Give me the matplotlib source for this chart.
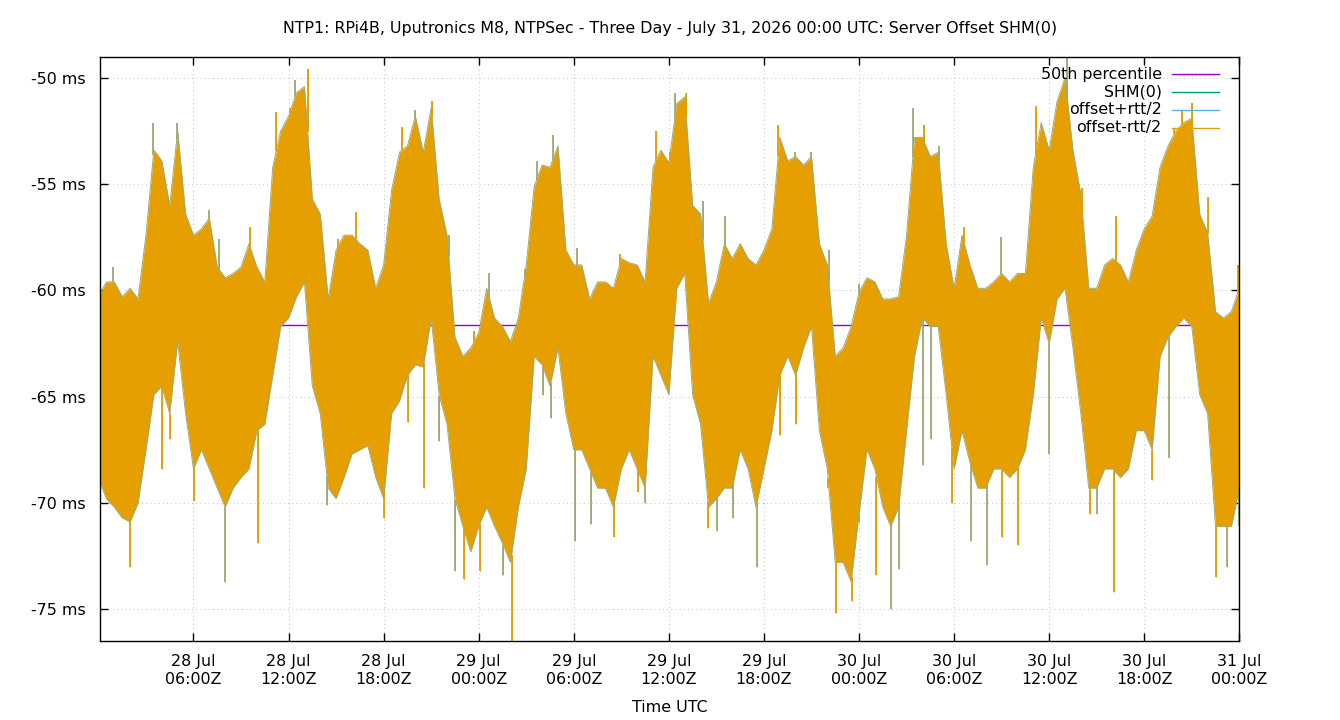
import numpy as np
import pandas as pd
import matplotlib
matplotlib.use("Agg")
import matplotlib.pyplot as plt
from matplotlib.lines import Line2D

# ---------------- data ----------------
start = pd.Timestamp("2026-07-28 00:00")
times = pd.date_range(start, periods=145, freq="30min")   # 30-minute envelope grid
hours = np.arange(145) * 0.5

# upper envelope of the offset band (ms)
band_hi = [
    -60.3, -59.6, -59.6, -60.3, -59.9, -60.4, -57.4, -53.4, -53.9, -56.0, -52.5, -56.4,
    -57.4, -57.1, -56.6, -58.9, -59.4, -59.2, -58.9, -57.8, -58.9, -59.6, -54.2, -52.5,
    -51.8, -50.7, -50.4, -55.7, -56.4, -60.4, -58.1, -57.4, -57.4, -57.8, -58.1, -59.9,
    -58.8, -55.3, -53.5, -53.2, -51.8, -53.5, -51.4, -55.7, -57.4, -62.2, -63.1, -62.7,
    -62.0, -59.9, -61.3, -61.7, -62.4, -61.3, -58.8, -55.1, -54.1, -54.2, -53.2, -58.1,
    -58.8, -58.8, -60.4, -59.6, -59.6, -59.9, -58.5, -58.7, -58.8, -59.6, -54.2, -53.4,
    -54.0, -51.2, -50.9, -56.0, -56.4, -60.6, -59.6, -57.8, -58.5, -57.8, -58.5, -58.8,
    -58.1, -57.1, -52.8, -53.9, -53.7, -54.1, -53.7, -57.8, -58.8, -63.1, -62.7, -61.7,
    -60.1, -59.4, -59.6, -60.4, -60.4, -60.3, -57.4, -52.8, -52.8, -53.7, -53.5, -57.8,
    -59.9, -57.4, -58.8, -59.9, -59.9, -59.6, -59.2, -59.6, -59.2, -59.2, -54.2, -52.1,
    -53.4, -51.1, -50.0, -53.4, -55.5, -59.9, -59.9, -58.8, -58.5, -58.8, -59.6, -58.1,
    -57.1, -56.5, -54.2, -53.2, -52.5, -52.1, -51.9, -56.4, -57.3, -61.0, -61.3, -61.0,
    -59.9,
]
# lower envelope of the offset band (ms)
band_lo = [
    -68.8, -69.8, -70.2, -70.7, -70.9, -70.0, -67.5, -64.9, -64.5, -65.8, -62.4, -65.8,
    -68.4, -67.5, -68.4, -69.3, -70.2, -69.3, -68.8, -68.4, -66.6, -66.3, -64.0, -61.7,
    -61.3, -60.3, -59.6, -64.5, -65.8, -69.3, -69.8, -68.8, -67.7, -67.5, -67.3, -68.8,
    -69.8, -65.8, -65.2, -64.0, -63.5, -63.6, -61.3, -64.9, -66.3, -69.8, -71.1, -72.3,
    -71.1, -70.2, -71.1, -71.9, -72.8, -70.2, -68.4, -63.1, -63.5, -64.5, -62.7, -65.8,
    -67.5, -67.5, -68.4, -69.3, -69.3, -70.2, -68.4, -67.5, -68.4, -69.3, -63.1, -64.0,
    -64.9, -59.9, -59.2, -64.9, -66.3, -70.2, -69.8, -69.3, -69.3, -67.5, -68.4, -70.2,
    -68.4, -66.6, -64.0, -63.1, -64.0, -62.7, -61.7, -66.6, -68.4, -72.8, -72.8, -73.7,
    -70.5, -67.5, -68.4, -70.2, -71.1, -70.2, -66.6, -63.1, -61.3, -61.7, -61.7, -64.9,
    -68.4, -66.6, -68.1, -69.3, -69.3, -68.4, -68.4, -68.8, -68.4, -67.5, -64.9, -61.3,
    -62.5, -60.4, -59.9, -62.7, -65.8, -69.3, -69.3, -68.4, -68.4, -68.8, -68.4, -66.6,
    -66.6, -67.5, -63.1, -62.2, -61.7, -61.3, -61.7, -64.9, -65.8, -71.1, -71.1, -71.1,
    -69.3,
]

# isolated spikes (hours after 28 Jul 00:00 UTC, ms)
spike_up_hours = [0.95, 3.47, 4.95, 6.95, 7.64, 9.58, 11.22, 12.06, 12.42, 13.2, 15.1, 16.25,
                  19.16, 19.96, 21.05, 22.1, 23.7, 24.64, 26.9, 27.65, 28.68, 30.22, 32.89,
                  35.17, 36.05, 36.37, 37.09, 38.14, 39.57, 42.9, 43.95, 44.94, 46.1, 48.0,
                  51.4, 52.1, 53.04, 54.62, 56.94, 59.15, 61.15, 62.1, 64.2, 67.89, 68.37,
                  69.04, 70.0, 71.9]
spike_up_ms = [-58.9, -52.1, -52.1, -56.2, -57.6, -57.0, -51.6, -51.4, -50.1, -49.6, -57.6, -56.3,
               -52.3, -51.5, -51.1, -57.4, -61.9, -59.2, -59.0, -53.9, -52.7, -58.0, -58.3,
               -52.5, -53.5, -50.7, -50.7, -55.8, -56.5, -52.2, -53.5, -53.5, -58.1, -59.7,
               -51.4, -52.2, -53.2, -57.0, -57.5, -51.3, -49.0, -55.2, -56.5, -52.4, -51.5,
               -51.2, -55.6, -58.8]
spike_dn_hours = [2.0, 4.0, 4.5, 6.04, 8.0, 10.04, 14.42, 18.04, 19.54, 20.53, 21.52, 22.53,
                  23.05, 24.05, 25.55, 26.07, 28.05, 28.54, 30.05, 31.06, 32.54, 34.05, 34.47,
                  38.47, 39.04, 40.05, 41.57, 43.04, 44.03, 46.05, 46.56, 47.53, 47.99, 49.1,
                  50.05, 50.52, 52.05, 52.52, 53.86, 55.04, 56.1, 57.04, 58.05, 59.99, 62.58,
                  63.04, 64.1, 66.5, 67.57, 70.52, 71.25, 71.95]
spike_dn_ms = [-73.0, -68.4, -67.0, -69.9, -73.7, -71.9, -70.1, -70.7, -66.2, -69.3, -67.1, -73.2,
               -73.6, -73.2, -73.4, -76.6, -64.9, -66.0, -71.8, -71.0, -71.6, -69.5, -70.0,
               -71.2, -71.3, -70.7, -73.0, -66.8, -66.3, -69.3, -75.2, -74.6, -70.9, -73.4,
               -75.0, -73.1, -68.2, -67.0, -70.0, -71.8, -72.9, -71.6, -72.0, -67.7, -70.5,
               -70.5, -74.2, -68.9, -67.9, -73.5, -73.0, -71.1]

median_ms = -61.65

title = "NTP1: RPi4B, Uputronics M8, NTPSec - Three Day - July 31, 2026 00:00 UTC: Server Offset SHM(0)"
legend_labels = ["50th percentile", "SHM(0)", "offset+rtt/2", "offset-rtt/2"]
yticks = [-75, -70, -65, -60, -55, -50]

# ---------------- plotting ----------------
C_MED = "#9400d3"
C_SHM = "#009e73"
C_PLUS = "#56b4e9"
C_MINUS = "#e69f00"
C_EDGE = "#9ea974"
FS = 11.4

plt.rcParams["font.family"] = ["DejaVu Sans"]
fig = plt.figure(figsize=(13.4, 7.2), dpi=100)
ax = fig.add_axes([100 / 1340, 1 - 641 / 720, 1139.3 / 1340, 584.3 / 720])

hi = np.array(band_hi)
lo = np.array(band_lo)

ax.axhline(median_ms, color=C_MED, lw=1.0, zorder=1.5)

ax.fill_between(times, lo, hi, color=C_MINUS, lw=0, zorder=2)
ax.plot(times, hi, color=C_EDGE, lw=0.7, zorder=2.2)
ax.plot(times, lo, color=C_EDGE, lw=0.7, zorder=2.2)

su_t = start + pd.to_timedelta(spike_up_hours, unit="h")
sd_t = start + pd.to_timedelta(spike_dn_hours, unit="h")
su_base = np.interp(spike_up_hours, hours, hi)
sd_base = np.interp(spike_dn_hours, hours, lo)
ax.vlines(su_t, su_base, spike_up_ms, color=C_EDGE, lw=1.3, zorder=2.3)
ax.vlines(sd_t, sd_base, spike_dn_ms, color=C_EDGE, lw=1.3, zorder=2.3)
ax.vlines(su_t, su_base, spike_up_ms, color=C_MINUS, lw=0.7, zorder=2.4)
ax.vlines(sd_t, sd_base, spike_dn_ms, color=C_MINUS, lw=0.7, zorder=2.4)

ax.set_xlim(start + pd.Timedelta(minutes=6), start + pd.Timedelta(hours=72))
ax.set_ylim(-76.5, -49.0)

xt = pd.date_range(start + pd.Timedelta(hours=6), start + pd.Timedelta(hours=72), freq="6h")
ax.set_xticks(xt)
ax.set_xticklabels([d.strftime("%d %b\n%H:%MZ") for d in xt], fontsize=FS, linespacing=1.2)
ax.set_yticks(yticks)
ax.set_yticklabels([f"{v} ms" for v in yticks], fontsize=FS)
ax.tick_params(direction="in", length=6, width=1, top=True, right=True)
ax.tick_params(axis="x", pad=9.5)
ax.tick_params(axis="y", pad=10)

ax.grid(True, color="#b0b0b0", lw=0.6, linestyle=(0, (1, 4)))
for s in ax.spines.values():
    s.set_linewidth(1.0)
    s.set_zorder(5)

fig.text(0.5, 1 - 29 / 720, title, ha="center", va="center", fontsize=FS)
fig.text(0.5, 1 - 707 / 720, "Time UTC", ha="center", va="center", fontsize=FS)

# gnuplot-style key: right-aligned text, sample line on the right
colors = [C_MED, C_SHM, C_PLUS, C_MINUS]
ys = [0.970, 0.9396, 0.9088, 0.878]
for lab, c, yy in zip(legend_labels, colors, ys):
    ax.text(0.932, yy, lab, transform=ax.transAxes, ha="right", va="center", fontsize=FS, zorder=6)
    ax.add_line(Line2D([0.941, 0.982], [yy, yy], transform=ax.transAxes, color=c, lw=1.0, zorder=6))

fig.savefig("out.png", dpi=100)
